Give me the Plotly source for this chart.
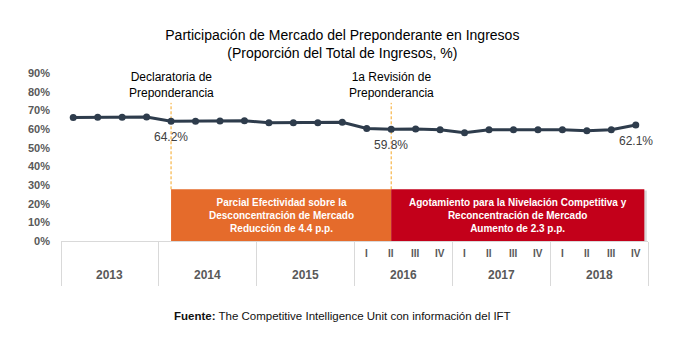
import plotly.graph_objects as go

# Quarterly market share of the preponderant agent (% of total revenue)
years = ["2013", "2014", "2015", "2016", "2017", "2018"]
quarters = ["I", "II", "III", "IV"]
share = [
    66.2, 66.3, 66.3, 66.4,   # 2013
    64.2, 64.2, 64.3, 64.4,   # 2014
    63.3, 63.3, 63.3, 63.6,   # 2015
    60.3, 59.8, 60.0, 59.6,   # 2016
    58.0, 59.6, 59.6, 59.6,   # 2017
    59.6, 59.1, 59.6, 62.1,   # 2018
]
quarter_label_years = ["2016", "2017", "2018"]
y_ticks = [0, 10, 20, 30, 40, 50, 60, 70, 80, 90]

# Milestones: index of the quarter, label above the line
milestones = [(4, "Declaratoria de<br>Preponderancia"), (13, "1a Revisión de<br>Preponderancia")]
value_labels = [4, 13, 23]

# Period bands along the bottom
band_height = 27.7
bands = [
    (4, 13, "#E56B2B", "Parcial Efectividad sobre la<br>Desconcentración de Mercado<br>Reducción de 4.4 p.p."),
    (13, 23.35, "#C3001A", "Agotamiento para la Nivelación Competitiva y<br>Reconcentración de Mercado<br>Aumento de 2.3 p.p."),
]

n = len(share)
xs = list(range(n))
LINE = "#2E3C4C"
GRAY = "#595959"
FONT = "Liberation Sans, Arial, sans-serif"

fig = go.Figure()
fig.add_trace(go.Scatter(
    x=xs, y=share, mode="lines+markers",
    line=dict(color=LINE, width=3),
    marker=dict(color=LINE, size=7),
    hoverinfo="skip", showlegend=False, cliponaxis=False,
))

shapes = []
annotations = []

# dashed milestone markers
for idx, txt in milestones:
    shapes.append(dict(type="line", xref="x", yref="y", x0=idx, x1=idx, y0=band_height, y1=74,
                       line=dict(color="#F5A623", width=1, dash="3px,2px"), layer="below"))
    annotations.append(dict(xref="x", yref="y", x=idx, y=83.5, text=txt, showarrow=False,
                            font=dict(family=FONT, size=12, color="#000000"),
                            xanchor="center", yanchor="middle", align="center"))

for idx in value_labels:
    annotations.append(dict(xref="x", yref="y", x=idx, y=share[idx], yshift=-16,
                            text=f"{share[idx]:.1f}%", showarrow=False,
                            font=dict(family=FONT, size=12, color="#404040"),
                            xanchor="center", yanchor="middle"))

# period bands with a soft drop shadow
for x0, x1, col, txt in bands:
    shapes.append(dict(type="rect", xref="x", yref="y", x0=x0 + 0.1, x1=x1 + 0.1, y0=-1, y1=band_height - 0.6,
                       fillcolor="rgba(0,0,0,0.15)", line=dict(width=0), layer="above"))
for x0, x1, col, txt in bands:
    shapes.append(dict(type="rect", xref="x", yref="y", x0=x0, x1=x1, y0=0, y1=band_height,
                       fillcolor=col, line=dict(width=0), layer="above"))
    annotations.append(dict(xref="x", yref="y", x=(x0 + x1) / 2, y=13.7, text=txt, showarrow=False,
                            font=dict(family=FONT, size=10, color="white", weight="bold"),
                            xanchor="center", yanchor="middle", align="center"))

# bottom table: quarter and year labels
for yi, yr in enumerate(years):
    annotations.append(dict(xref="x", yref="paper", x=yi * 4 + 1.5, y=-0.202, text=yr, showarrow=False,
                            font=dict(family=FONT, size=12, color=GRAY, weight="bold"),
                            xanchor="center", yanchor="middle"))
    if yr in quarter_label_years:
        for qi, q in enumerate(quarters):
            annotations.append(dict(xref="x", yref="paper", x=yi * 4 + qi, y=-0.075, text=q, showarrow=False,
                                    font=dict(family=FONT, size=10, color=GRAY, weight="bold"),
                                    xanchor="center", yanchor="middle"))

annotations.append(dict(xref="paper", yref="paper", x=0.4796, y=-0.446,
                        text="<b>Fuente:</b> The Competitive Intelligence Unit con información del IFT",
                        showarrow=False, font=dict(family=FONT, size=11.5, color="#111111"),
                        xanchor="center", yanchor="middle"))

fig.update_layout(
    width=693, height=341,
    margin=dict(l=61, r=45, t=73, b=100),
    paper_bgcolor="white", plot_bgcolor="white",
    title=dict(text="Participación de Mercado del Preponderante en Ingresos<br>(Proporción del Total de Ingresos, %)",
               x=0.494, xanchor="center", y=1 - 39.5 / 341, yanchor="middle", xref="container", yref="container",
               font=dict(family=FONT, size=14, color="#000000")),
    xaxis=dict(range=[-0.5, n - 0.5], tickvals=[i * 4 - 0.5 for i in range(len(years) + 1)],
               ticks="outside", ticklen=44, tickcolor="#D9D9D9", tickwidth=1,
               showticklabels=False, showgrid=False, zeroline=False,
               showline=True, linecolor="#D9D9D9", linewidth=1, fixedrange=True),
    yaxis=dict(range=[0, 90], tickvals=y_ticks, ticktext=[f"{v}%" for v in y_ticks],
               showgrid=False, zeroline=False, showline=False, ticks="",
               ticklabelstandoff=10,
               tickfont=dict(family=FONT, size=11, color=GRAY, weight="bold"), fixedrange=True),
    shapes=shapes, annotations=annotations,
)

fig.write_html("out.html")
